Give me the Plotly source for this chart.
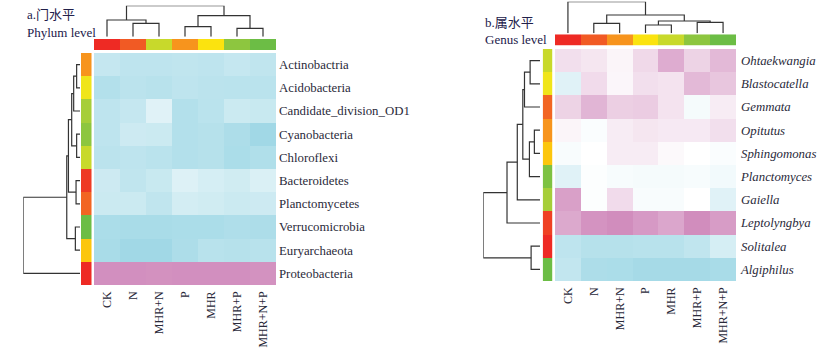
import plotly.graph_objects as go

W, H = 837, 351

# ---------------- data ----------------
treatments_a = ["CK", "N", "MHR+N", "P", "MHR", "MHR+P", "MHR+N+P"]
treatments_b = ["CK", "N", "MHR+N", "P", "MHR", "MHR+P", "MHR+N+P"]

phyla = ["Actinobactria", "Acidobacteria", "Candidate_division_OD1", "Cyanobacteria",
         "Chloroflexi", "Bacteroidetes", "Planctomycetes", "Verrucomicrobia",
         "Euryarchaeota", "Proteobacteria"]
genera = ["Ohtaekwangia", "Blastocatella", "Gemmata", "Opitutus", "Sphingomonas",
          "Planctomyces", "Gaiella", "Leptolyngbya", "Solitalea", "Algiphilus"]

# relative abundance score: negative = blue (low), positive = pink (high)
phylum_z = [
    [-0.55, -0.62, -0.62, -0.60, -0.62, -0.55, -0.60],
    [-0.72, -0.65, -0.68, -0.62, -0.65, -0.66, -0.66],
    [-0.62, -0.55, -0.30, -0.72, -0.66, -0.50, -0.52],
    [-0.62, -0.48, -0.50, -0.72, -0.70, -0.78, -0.90],
    [-0.65, -0.62, -0.66, -0.72, -0.70, -0.80, -0.75],
    [-0.48, -0.60, -0.52, -0.32, -0.40, -0.45, -0.35],
    [-0.50, -0.50, -0.60, -0.42, -0.45, -0.50, -0.48],
    [-0.80, -0.82, -0.82, -0.80, -0.80, -0.76, -0.78],
    [-0.82, -0.90, -0.90, -0.78, -0.68, -0.70, -0.68],
    [0.88, 0.88, 0.87, 0.88, 0.88, 0.88, 0.86],
]
genus_z = [
    [0.25, 0.20, 0.08, 0.30, 0.65, 0.35, 0.55],
    [-0.30, 0.28, 0.07, 0.25, 0.22, 0.55, 0.45],
    [0.35, 0.58, 0.38, 0.40, 0.22, -0.10, 0.15],
    [0.08, -0.05, 0.15, 0.20, 0.17, 0.17, 0.25],
    [-0.07, 0.00, 0.15, 0.15, 0.05, 0.00, -0.05],
    [-0.30, -0.03, -0.08, -0.10, -0.10, -0.08, -0.12],
    [0.75, -0.03, 0.28, -0.07, -0.07, 0.00, -0.30],
    [0.68, 0.85, 0.90, 0.80, 0.70, 0.90, 0.78],
    [-0.62, -0.70, -0.70, -0.68, -0.68, -0.60, -0.40],
    [-0.58, -0.78, -0.80, -0.85, -0.85, -0.85, -0.82],
]

phylum_col_colors = ["#ee2a24", "#f15a24", "#c8d92b", "#f7941d", "#fbe30f", "#8dc63f", "#6cbd45"]
genus_col_colors = ["#ee2a24", "#f15a24", "#f7941d", "#fbe30f", "#c8d92b", "#8dc63f", "#6cbd45"]
phylum_row_colors = ["#f7941d", "#f0e51a", "#a6ce39", "#8dc63f", "#c8d92b",
                     "#ee3a24", "#f26522", "#6cbd45", "#fcc60d", "#ee2a24"]
genus_row_colors = ["#c8d92b", "#f0e51a", "#f26522", "#f7941d", "#fcc60d",
                    "#7dc242", "#a6ce39", "#ef4123", "#ee2a24", "#6cbd45"]

# dendrogram merges in order: (child_a, child_b, distance); leaves 0..n-1, merge k -> n+k
phylum_col_tree = [(1, 2, 13.4), (0, 7, 16.7), (3, 4, 10.0), (5, 6, 8.4), (9, 10, 21.0), (8, 11, 31.0)]
genus_col_tree = [(1, 2, 10.0), (3, 4, 8.3), (5, 6, 11.0), (8, 9, 12.3), (7, 10, 18.3), (0, 11, 31.6)]
phylum_row_tree = [(0, 1, 3.4), (10, 2, 6.4), (3, 4, 3.4), (11, 12, 8.4), (5, 6, 4.0),
                   (13, 14, 11.7), (7, 8, 4.7), (15, 16, 13.4), (17, 9, 57.4)]
genus_row_tree = [(0, 1, 10.0), (10, 2, 15.7), (3, 4, 5.7), (12, 5, 10.7), (11, 13, 17.4),
                  (14, 6, 23.0), (15, 7, 33.4), (8, 9, 9.0), (16, 17, 57.4)]

# ---------------- helpers ----------------
def dendro_lines(tree, n):
    pos = {i: float(i) for i in range(n)}
    hgt = {i: 0.0 for i in range(n)}
    P, D = [], []
    for k, (a, b, h) in enumerate(tree):
        node = n + k
        P += [pos[a], pos[a], pos[b], pos[b], None]
        D += [hgt[a], h, h, hgt[b], None]
        pos[node] = (pos[a] + pos[b]) / 2
        hgt[node] = h
    return P, D


def dx(px):
    return px / W


def dy(top, bottom):
    return [1 - bottom / H, 1 - top / H]


def step_scale(colors):
    n = len(colors)
    cs = []
    for i, c in enumerate(colors):
        cs.append([i / n, c])
        cs.append([(i + 1) / n, c])
    return cs


heat_scale = [[0.0, "#96d4e3"], [0.5, "#ffffff"], [1.0, "#cc80b6"]]
LINE = dict(color="#333333", width=1.2)
COL_FONT = dict(family="Liberation Serif, Times New Roman, serif", size=12, color="#2a2a3a")
ROW_FONT = dict(family="Liberation Serif, Times New Roman, serif", size=12.8, color="#2a2a3a")

fig = go.Figure()
layout = dict(width=W, height=H, margin=dict(l=0, r=0, t=0, b=0),
              paper_bgcolor="white", plot_bgcolor="white", showlegend=False)

blank = dict(showgrid=False, zeroline=False, showticklabels=False, ticks="", showline=False, fixedrange=True)


def panel(idx0, cats, rows, z, col_colors, row_colors, col_tree, row_tree,
          heat_x, heat_y, colbar_y, coldend_y, rowbar_x, rowdend_x, italic, row_standoff):
    ncol, nrow = len(cats), len(rows)
    a = idx0
    names = {k: (a + k) for k in range(5)}

    def ax(i):
        return "" if i == 1 else str(i)

    # heatmap
    i = names[0]
    fig.add_trace(go.Heatmap(z=z, x=list(range(ncol)), y=list(range(nrow)),
                             colorscale=heat_scale, zmin=-1, zmax=1, showscale=False,
                             xaxis="x" + ax(i), yaxis="y" + ax(i), hoverinfo="skip"))
    ticktext = [("<i>%s</i>" % r) if italic else r for r in rows]
    layout["xaxis" + ax(i)] = dict(blank, domain=[dx(heat_x[0]), dx(heat_x[1])], anchor="y" + ax(i),
                                   range=[-0.5, ncol - 0.5], showticklabels=True,
                                   tickmode="array", tickvals=list(range(ncol)), ticktext=cats,
                                   tickangle=-90, tickfont=COL_FONT, ticklen=0, ticklabelstandoff=3)
    layout["yaxis" + ax(i)] = dict(blank, domain=dy(*heat_y), anchor="x" + ax(i),
                                   range=[nrow - 0.5, -0.5], side="right", showticklabels=True,
                                   tickmode="array", tickvals=list(range(nrow)), ticktext=ticktext,
                                   tickfont=ROW_FONT, ticklen=0, ticklabelstandoff=row_standoff)

    # column colour bar
    i = names[1]
    fig.add_trace(go.Heatmap(z=[list(range(ncol))], x=list(range(ncol)), y=[0],
                             colorscale=step_scale(col_colors), zmin=-0.5, zmax=ncol - 0.5,
                             showscale=False, xaxis="x" + ax(i), yaxis="y" + ax(i), hoverinfo="skip"))
    layout["xaxis" + ax(i)] = dict(blank, domain=[dx(heat_x[0]), dx(heat_x[1])], anchor="y" + ax(i),
                                   range=[-0.5, ncol - 0.5])
    layout["yaxis" + ax(i)] = dict(blank, domain=dy(*colbar_y), anchor="x" + ax(i), range=[-0.5, 0.5])

    # column dendrogram
    i = names[2]
    P, D = dendro_lines(col_tree, ncol)
    fig.add_trace(go.Scatter(x=P, y=D, mode="lines", line=LINE, xaxis="x" + ax(i), yaxis="y" + ax(i),
                             hoverinfo="skip"))
    layout["xaxis" + ax(i)] = dict(blank, domain=[dx(heat_x[0]), dx(heat_x[1])], anchor="y" + ax(i),
                                   range=[-0.5, ncol - 0.5])
    layout["yaxis" + ax(i)] = dict(blank, domain=dy(*coldend_y), anchor="x" + ax(i),
                                   range=[0, max(t[2] for t in col_tree)])

    # row colour bar
    i = names[3]
    fig.add_trace(go.Heatmap(z=[[k] for k in range(nrow)], x=[0], y=list(range(nrow)),
                             colorscale=step_scale(row_colors), zmin=-0.5, zmax=nrow - 0.5,
                             showscale=False, xaxis="x" + ax(i), yaxis="y" + ax(i), hoverinfo="skip"))
    layout["xaxis" + ax(i)] = dict(blank, domain=[dx(rowbar_x[0]), dx(rowbar_x[1])], anchor="y" + ax(i),
                                   range=[-0.5, 0.5])
    layout["yaxis" + ax(i)] = dict(blank, domain=dy(*heat_y), anchor="x" + ax(i),
                                   range=[nrow - 0.5, -0.5])

    # row dendrogram
    i = names[4]
    P, D = dendro_lines(row_tree, nrow)
    fig.add_trace(go.Scatter(x=D, y=P, mode="lines", line=LINE, xaxis="x" + ax(i), yaxis="y" + ax(i),
                             hoverinfo="skip"))
    layout["xaxis" + ax(i)] = dict(blank, domain=[dx(rowdend_x[0]), dx(rowdend_x[1])], anchor="y" + ax(i),
                                   range=[max(t[2] for t in row_tree), 0])
    layout["yaxis" + ax(i)] = dict(blank, domain=dy(*heat_y), anchor="x" + ax(i),
                                   range=[nrow - 0.5, -0.5])


panel(1, treatments_a, phyla, phylum_z, phylum_col_colors, phylum_row_colors,
      phylum_col_tree, phylum_row_tree,
      heat_x=(94, 276), heat_y=(53, 285), colbar_y=(39, 50), coldend_y=(5.7, 36.7),
      rowbar_x=(81, 91.5), rowdend_x=(23.3, 80.0), italic=False, row_standoff=2)
panel(6, treatments_b, genera, genus_z, genus_col_colors, genus_row_colors,
      genus_col_tree, genus_row_tree,
      heat_x=(555, 736), heat_y=(49, 281), colbar_y=(34.3, 45.7), coldend_y=(1.7, 33.3),
      rowbar_x=(542.7, 552.3), rowdend_x=(483.3, 540.0), italic=True, row_standoff=4)

TITLE_FONT = dict(family="Liberation Serif, Noto Sans CJK SC, serif", size=13, color="#22204a")
annos = [
    ("a.门水平", 25, 15),
    ("Phylum level", 25, 32.3),
    ("b.属水平", 483.3, 22.7),
    ("Genus level", 483.3, 39),
]
layout["annotations"] = [
    dict(text=t, x=dx(x), y=1 - y / H, xref="paper", yref="paper", xanchor="left", yanchor="middle",
         showarrow=False, font=TITLE_FONT) for t, x, y in annos
]

fig.update_layout(**layout)
fig.write_html("out.html")
